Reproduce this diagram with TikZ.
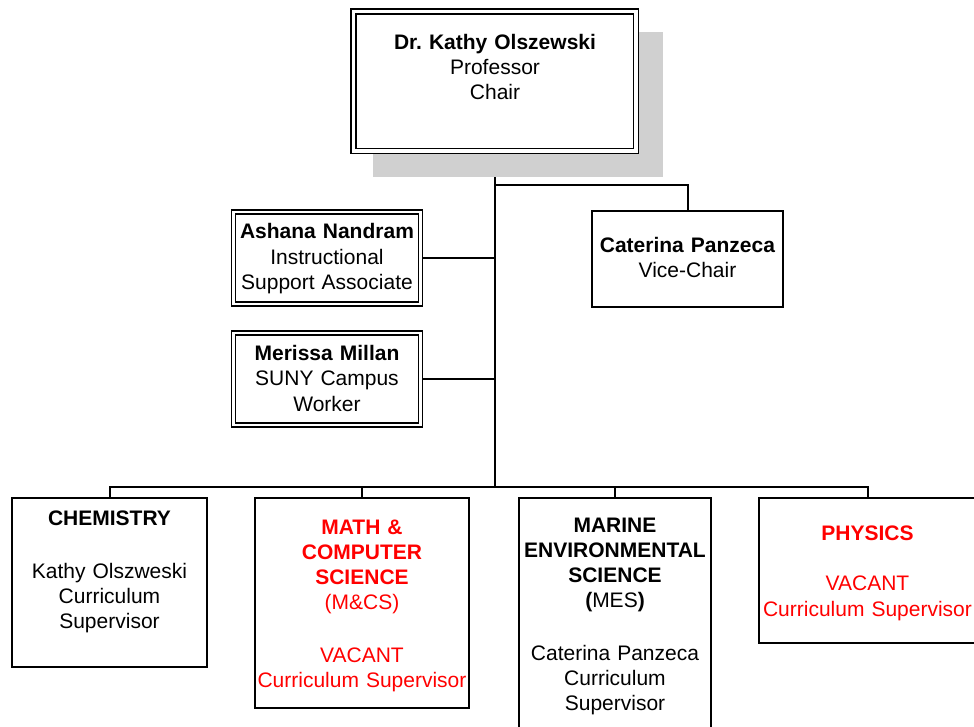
\documentclass[tikz,border=0pt]{standalone}
\usepackage{fontspec}
\setmainfont{Liberation Sans}
\usetikzlibrary{backgrounds}
\definecolor{vacred}{RGB}{255,0,0}
\definecolor{shadowgray}{RGB}{208,208,208}
\begin{document}
\frenchspacing
\begin{tikzpicture}[x=1pt,y=-1pt,
  box/.style={draw, line width=1.8pt, fill=white, inner sep=0pt, outer sep=0pt, anchor=north west},
  topbox/.style={box, line width=1.6pt, double=white, double distance=3.4pt},
  dbox/.style={box, line width=1.3pt, double=white, double distance=2.7pt},
  txt/.style={anchor=base, inner sep=0pt, text width=240pt, align=center, font=\fontsize{21}{25}\selectfont},
  redtxt/.style={txt, text=vacred},
  conn/.style={line width=2pt}]
\useasboundingbox (0,0) rectangle (974,727);
\clip (0,0) rectangle (974,727);
\fill[shadowgray] (373,32) rectangle (663,177);
% boxes
\node[topbox, minimum width=282.5pt, minimum height=139.5pt] (top) at (353.5,11.5) {};
\node[dbox, minimum width=186.8pt, minimum height=92pt] (ashana) at (233.6,212) {};
\node[dbox, minimum width=186.8pt, minimum height=92pt] (merissa) at (233.6,333) {};
\node[box, minimum width=191pt, minimum height=96pt] (vice) at (592,211) {};
\node[box, minimum width=195pt, minimum height=169pt] (chem) at (12,498) {};
\node[box, minimum width=214pt, minimum height=210pt] (math) at (255,498) {};
\node[box, minimum width=192pt, minimum height=250pt] (marine) at (519,498) {};
\node[box, minimum width=217pt, minimum height=145pt] (phys) at (759,498) {};
% texts
\node[txt] (toptxt) at (495,50) {\textbf{Dr. Kathy Olszewski}\\Professor\\Chair};
\node[txt] (ashtxt) at (327,239) {\textbf{Ashana Nandram}\\[0.5pt]Instructional\\[0.5pt]Support Associate};
\node[txt] (mertxt) at (327,360) {\textbf{Merissa Millan}\\[0.5pt]SUNY Campus\\[0.5pt]Worker};
\node[txt] (vicetxt) at (687.5,253) {\textbf{Caterina Panzeca}\\Vice-Chair};
\node[txt] (chemtxt) at (109.5,525) {\textbf{CHEMISTRY}\\[28pt]Kathy Olszweski\\Curriculum\\Supervisor};
\node[redtxt] (mathtxt) at (362,534) {\textbf{MATH \&}\\\textbf{COMPUTER}\\\textbf{SCIENCE}\\(M\&CS)\\[28pt]VACANT\\Curriculum Supervisor};
\node[txt] (martxt) at (615,532) {\textbf{MARINE}\\\textbf{ENVIRONMENTAL}\\\textbf{SCIENCE}\\\textbf{(}MES\textbf{)}\\[28pt]Caterina Panzeca\\Curriculum\\Supervisor};
\node[redtxt] (phystxt) at (867.5,540) {\textbf{PHYSICS}\\[25pt]VACANT\\[1pt]Curriculum Supervisor};
% connectors
\coordinate (j1) at (495,185);
\coordinate (bus) at (495,487);
\begin{pgfonlayer}{background}
\draw[conn] (top.south -| bus) -- (bus);
\draw[conn] (j1) -| (vice.north);
\draw[conn] (ashana.east) -- (ashana.east -| bus);
\draw[conn] (merissa.east) -- (merissa.east -| bus);
\draw[conn] (chem.north) -- (chem.north |- bus) -| (phys.north);
\draw[conn] (math.north) -- (math.north |- bus);
\draw[conn] (marine.north) -- (marine.north |- bus);
\end{pgfonlayer}
\end{tikzpicture}
\end{document}
